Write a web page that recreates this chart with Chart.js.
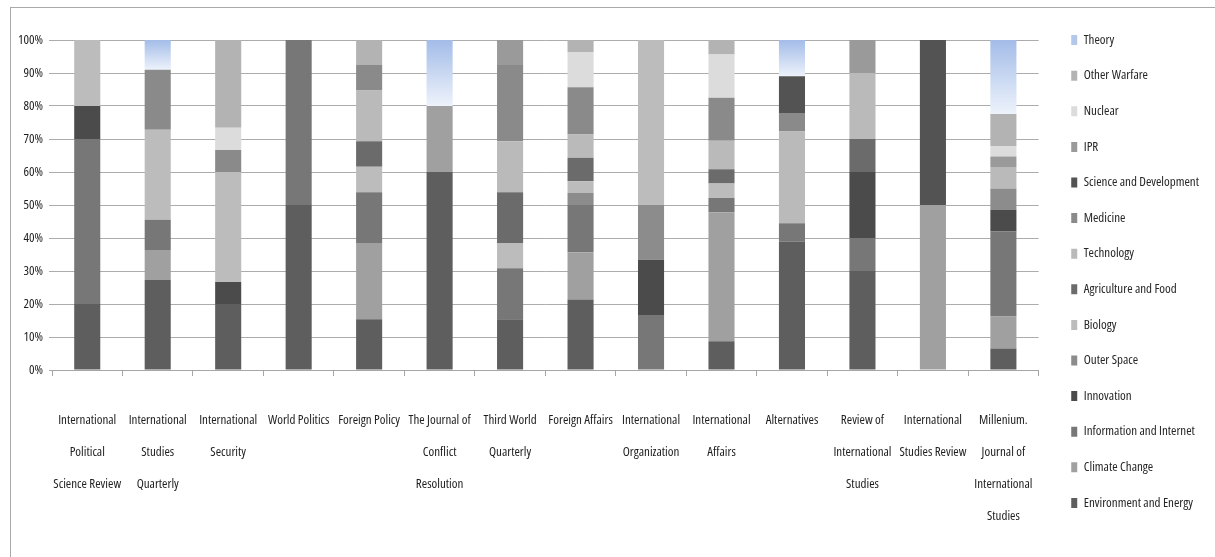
<!DOCTYPE html>
<html>
<head>
<meta charset="utf-8">
<script src="https://cdn.jsdelivr.net/npm/chart.js@4"></script>
<style>
  body { margin: 0; background: #fff; }
  #wrap { position: relative; width: 1215px; height: 557px; overflow: hidden; }
  #frame { position: absolute; left: 10px; top: 7px; width: 1300px; height: 700px;
           border-left: 1px solid #a9a9a9; border-top: 1px solid #a9a9a9; }
  canvas { position: absolute; left: 0; top: 0; }
</style>
</head>
<body>
<div id="wrap">
  <div id="frame"></div>
  <canvas id="myChart" width="1215" height="557"></canvas>
</div>
<script>
// journals (x categories)
const journals = [
  ["International", "Political", "Science Review"],
  ["International", "Studies", "Quarterly"],
  ["International", "Security"],
  "World Politics",
  "Foreign Policy",
  ["The Journal of", "Conflict", "Resolution"],
  ["Third World", "Quarterly"],
  "Foreign Affairs",
  ["International", "Organization"],
  ["International", "Affairs"],
  "Alternatives",
  ["Review of", "International", "Studies"],
  ["International", "Studies Review"],
  ["Millenium.", "Journal of", "International", "Studies"]
];

// share of articles per topic, % (stacked bottom to top)
const envEnergy     = [20, 27.3, 20,   50, 15.4, 60, 15.4, 21.4, 0,    8.7, 38.9, 30, 0,  6.5];
const climate       = [0,  9.1,  0,    0,  23.1, 20, 0,    14.3, 0,    39.1, 0,   0,  50, 9.7];
const infoInternet  = [50, 9.1,  0,    50, 15.4, 0,  15.4, 14.3, 16.7, 4.3, 5.6,  10, 0,  25.8];
const innovation    = [10, 0,    6.7,  0,  0,    0,  0,    0,    16.7, 0,   0,    20, 0,  6.5];
const outerSpace    = [0,  0,    0,    0,  0,    0,  0,    3.6,  16.7, 0,   0,    0,  0,  6.5];
const biology       = [20, 27.3, 33.3, 0,  7.7,  0,  7.7,  3.6,  50,   4.4, 0,    0,  0,  0];
const agriFood      = [0,  0,    0,    0,  7.7,  0,  15.4, 7.1,  0,    4.3, 0,    10, 0,  0];
const technology    = [0,  0,    0,    0,  15.4, 0,  15.4, 7.1,  0,    8.7, 27.8, 20, 0,  6.5];
const medicine      = [0,  18.2, 6.7,  0,  7.7,  0,  23.1, 14.3, 0,    13,  5.6,  0,  0,  0];
const sciDev        = [0,  0,    0,    0,  0,    0,  0,    0,    0,    0,   11.1, 0,  50, 0];
const ipr           = [0,  0,    0,    0,  0,    0,  7.7,  0,    0,    0,   0,    10, 0,  3.2];
const nuclear       = [0,  0,    6.7,  0,  0,    0,  0,    10.7, 0,    13.1, 0,   0,  0,  3.2];
const otherWarfare  = [0,  0,    26.7, 0,  7.7,  0,  0,    3.6,  0,    4.4, 0,    0,  0,  9.7];
const theory        = [0,  9.1,  0,    0,  0,    20, 0,    0,    0,    0,   11.1, 0,  0,  22.6];

const yTicks = [0, 10, 20, 30, 40, 50, 60, 70, 80, 90, 100];

// Open Sans squeezed to its condensed width looks close to the Excel text
Chart.defaults.font.family = "'Open Sans', 'Liberation Sans', sans-serif";
Chart.defaults.font.weight = 'condensed';
Chart.defaults.font.size = 13;
Chart.defaults.color = '#1e1e1e';

// blue fade used by Excel for the Theory series
function theoryFill(ctx) {
  const chart = ctx.chart;
  const y = chart.scales.y;
  if (!chart.chartArea || !y) return '#b4c8ec';
  const v = ctx.dataset.data[ctx.dataIndex];
  const top = y.getPixelForValue(100);
  const bot = y.getPixelForValue(100 - v);
  if (!isFinite(top) || !isFinite(bot) || bot <= top) return '#b4c8ec';
  const g = chart.ctx.createLinearGradient(0, top, 0, bot);
  g.addColorStop(0, '#a3bce8');
  g.addColorStop(1, '#eef3fb');
  return g;
}

function series(label, data, color) {
  return { label: label, data: data, backgroundColor: color, borderWidth: 0,
           categoryPercentage: 1, barPercentage: 0.37 };
}

// legend sits a bit to the right of where chart.js puts it
const nudgeLegend = {
  id: 'nudgeLegend',
  afterLayout(chart) {
    const lg = chart.legend;
    if (!lg) return;
    lg.left += 10; lg.right += 10;
    lg.top -= 7; lg.bottom -= 7;
  }
};

var myChart = new Chart(document.getElementById('myChart'), {
  type: 'bar',
  data: {
    labels: journals,
    datasets: [
      series('Environment and Energy', envEnergy, '#5e5e5e'),
      series('Climate Change', climate, '#a0a0a0'),
      series('Information and Internet', infoInternet, '#777777'),
      series('Innovation', innovation, '#4b4b4b'),
      series('Outer Space', outerSpace, '#8c8c8c'),
      series('Biology', biology, '#bcbcbc'),
      series('Agriculture and Food', agriFood, '#6b6b6b'),
      series('Technology', technology, '#bababa'),
      series('Medicine', medicine, '#8a8a8a'),
      series('Science and Development', sciDev, '#535353'),
      series('IPR', ipr, '#9a9a9a'),
      series('Nuclear', nuclear, '#dcdcdc'),
      series('Other Warfare', otherWarfare, '#b3b3b3'),
      series('Theory', theory, theoryFill)
    ]
  },
  options: {
    responsive: false,
    animation: false,
    layout: { padding: { left: 0, top: 0, bottom: 0, right: 16 } },
    plugins: {
      title: { display: true, text: '', padding: 0, font: { size: 10, lineHeight: '40px' } },
      tooltip: { enabled: false },
      legend: {
        position: 'right',
        reverse: true,
        labels: {
          boxWidth: 6, boxHeight: 10, padding: 22.6,
          color: '#262626', font: { size: 13 },
          generateLabels(chart) {
            const items = Chart.defaults.plugins.legend.labels.generateLabels(chart);
            items.forEach(it => { if (it.text === 'Theory') it.fillStyle = '#b4c8ec'; });
            return items;
          }
        }
      }
    },
    scales: {
      x: {
        stacked: true,
        grid: { offset: true, drawOnChartArea: false, drawTicks: true, tickLength: 6, color: '#a6a6a6' },
        border: { color: '#a6a6a6' },
        ticks: { maxRotation: 0, minRotation: 0, autoSkip: false, padding: 28,
                 font: { size: 13, lineHeight: '32px' } },
        afterFit(scale) { scale.height = 187; }
      },
      y: {
        stacked: true,
        min: 0, max: 100,
        afterBuildTicks(scale) { scale.ticks = yTicks.map(v => ({ value: v })); },
        grid: { color: '#acacac', tickLength: 3 },
        border: { display: false },
        ticks: { padding: 6, callback: v => v + '%' },
        afterFit(scale) { scale.width = 52; }
      }
    }
  },
  plugins: [nudgeLegend]
});
</script>
</body>
</html>
